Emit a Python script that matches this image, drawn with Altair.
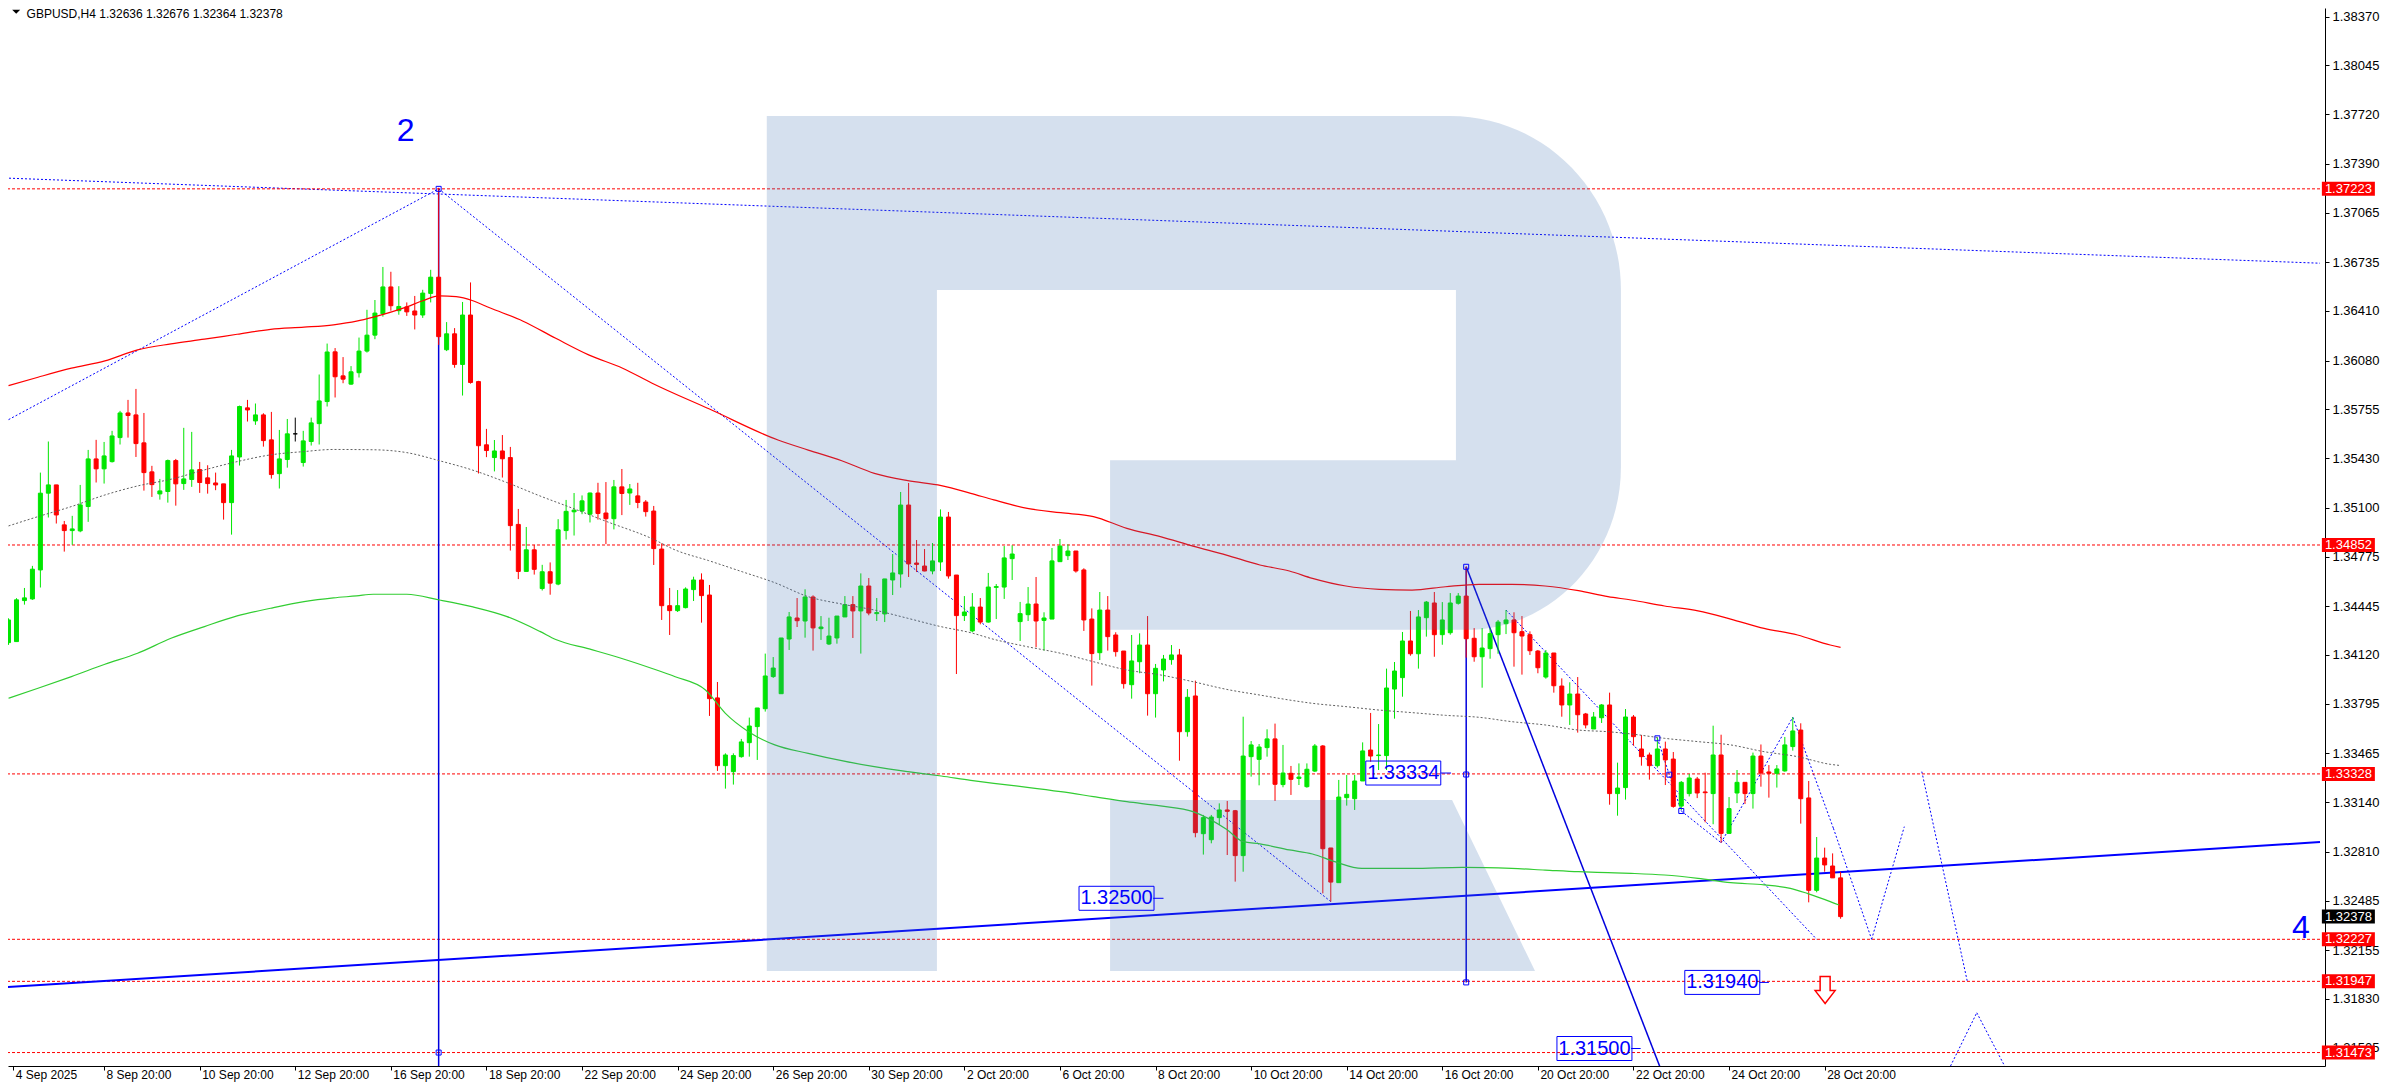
import altair as alt
import pandas as pd

# ---------------- data ----------------
opens = [1.34202, 1.34209, 1.34482, 1.34493, 1.34686, 1.35197, 1.35252, 1.34986, 1.34948, 1.34946,
 1.35108, 1.35425, 1.35359, 1.35407, 1.35567, 1.35731, 1.35718, 1.35532, 1.35339, 1.35192,
 1.35208, 1.35414, 1.35261, 1.35288, 1.35354, 1.35299, 1.35265, 1.35259, 1.35134, 1.35438,
 1.35765, 1.35678, 1.35718, 1.35552, 1.35327, 1.35421, 1.35592, 1.35401, 1.35541, 1.35660,
 1.35807, 1.36138, 1.35978, 1.35923, 1.35999, 1.36143, 1.36249, 1.36391, 1.36570, 1.36412,
 1.36437, 1.36410, 1.36383, 1.36527, 1.36635, 1.36152, 1.36258, 1.36054, 1.36383, 1.35940,
 1.35519, 1.35434, 1.35478, 1.35434, 1.34989, 1.34676, 1.34820, 1.34562, 1.34674, 1.34592,
 1.34948, 1.35073, 1.35078, 1.35057, 1.35198, 1.35065, 1.35027, 1.35239, 1.35198, 1.35179,
 1.35138, 1.35078, 1.34825, 1.34448, 1.34415, 1.34435, 1.34555, 1.34619, 1.34519, 1.33834,
 1.33383, 1.33343, 1.33443, 1.33536, 1.33643, 1.33762, 1.33976, 1.33862, 1.34226, 1.34366,
 1.34346, 1.34506, 1.34295, 1.34193, 1.34233, 1.34373, 1.34455, 1.34413, 1.34579, 1.34395,
 1.34393, 1.34619, 1.34659, 1.35118, 1.34732, 1.34712, 1.34679, 1.34739, 1.35038, 1.34652,
 1.34382, 1.34280, 1.34439, 1.34339, 1.34570, 1.34572, 1.34761, 1.34342, 1.34388, 1.34459,
 1.34350, 1.34359, 1.34741, 1.34781, 1.34812, 1.34686, 1.34359, 1.34135, 1.34419, 1.34253,
 1.34146, 1.33922, 1.34075, 1.34186, 1.33862, 1.34020, 1.34089, 1.34120, 1.33609, 1.33847,
 1.32930, 1.32890, 1.33037, 1.33088, 1.33083, 1.32784, 1.33443, 1.33425, 1.33503, 1.33561,
 1.33257, 1.33332, 1.33298, 1.33243, 1.33347, 1.33514, 1.32835, 1.32604, 1.33170, 1.33163,
 1.33281, 1.33487, 1.33450, 1.33450, 1.33893, 1.33969, 1.34213, 1.34128, 1.34368, 1.34466,
 1.34255, 1.34268, 1.34464, 1.34512, 1.34231, 1.34108, 1.34162, 1.34255, 1.34328, 1.34353,
 1.34275, 1.34255, 1.34146, 1.33973, 1.34133, 1.33913, 1.33787, 1.33860, 1.33727, 1.33627,
 1.33702, 1.33787, 1.33197, 1.33237, 1.33707, 1.33494, 1.33454, 1.33383, 1.33494, 1.33427,
 1.33114, 1.33197, 1.33294, 1.33208, 1.33197, 1.33454, 1.32932, 1.33201, 1.33272, 1.33197,
 1.33447, 1.33341, 1.33332, 1.33348, 1.33510, 1.33620, 1.33168, 1.32553, 1.32768, 1.32715,
 1.32636]

highs = [1.34364, 1.34498, 1.34566, 1.34713, 1.35334, 1.35541, 1.35252, 1.35012, 1.35046, 1.35252,
 1.35485, 1.35552, 1.35538, 1.35612, 1.35745, 1.35818, 1.35891, 1.35731, 1.35379, 1.35292,
 1.35421, 1.35425, 1.35632, 1.35605, 1.35405, 1.35383, 1.35334, 1.35259, 1.35485, 1.35780,
 1.35818, 1.35794, 1.35729, 1.35738, 1.35618, 1.35691, 1.35700, 1.35612, 1.35700, 1.35987,
 1.36193, 1.36163, 1.36103, 1.36043, 1.36233, 1.36418, 1.36483, 1.36703, 1.36671, 1.36575,
 1.36467, 1.36510, 1.36551, 1.36684, 1.37230, 1.36336, 1.36296, 1.36470, 1.36600, 1.35945,
 1.35625, 1.35551, 1.35584, 1.35505, 1.35092, 1.34972, 1.34853, 1.34720, 1.34736, 1.35024,
 1.35152, 1.35198, 1.35182, 1.35201, 1.35266, 1.35271, 1.35285, 1.35358, 1.35258, 1.35266,
 1.35151, 1.35112, 1.34863, 1.34566, 1.34552, 1.34570, 1.34641, 1.34663, 1.34586, 1.33940,
 1.33465, 1.33465, 1.33561, 1.33703, 1.33767, 1.34129, 1.34106, 1.34233, 1.34406, 1.34499,
 1.34557, 1.34517, 1.34379, 1.34368, 1.34379, 1.34512, 1.34512, 1.34663, 1.34632, 1.34499,
 1.34626, 1.34792, 1.35205, 1.35265, 1.34885, 1.34825, 1.34865, 1.35089, 1.35072, 1.34652,
 1.34512, 1.34532, 1.34499, 1.34666, 1.34592, 1.34845, 1.34850, 1.34473, 1.34572, 1.34639,
 1.34404, 1.34832, 1.34892, 1.34856, 1.34812, 1.34697, 1.34430, 1.34539, 1.34512, 1.34271,
 1.34146, 1.34253, 1.34264, 1.34379, 1.34060, 1.34120, 1.34186, 1.34160, 1.33893, 1.33949,
 1.33055, 1.33055, 1.33132, 1.33148, 1.33088, 1.33709, 1.33547, 1.33527, 1.33625, 1.33663,
 1.33521, 1.33381, 1.33398, 1.33398, 1.33527, 1.33520, 1.32835, 1.33288, 1.33321, 1.33321,
 1.33538, 1.33734, 1.33660, 1.34029, 1.34073, 1.34273, 1.34413, 1.34419, 1.34479, 1.34539,
 1.34472, 1.34532, 1.34532, 1.34708, 1.34299, 1.34299, 1.34297, 1.34353, 1.34419, 1.34404,
 1.34379, 1.34277, 1.34153, 1.34153, 1.34133, 1.33964, 1.33938, 1.33973, 1.33734, 1.33740,
 1.33793, 1.33869, 1.33403, 1.33760, 1.33720, 1.33587, 1.33470, 1.33572, 1.33543, 1.33474,
 1.33281, 1.33328, 1.33308, 1.33336, 1.33649, 1.33589, 1.33174, 1.33354, 1.33272, 1.33470,
 1.33524, 1.33387, 1.33387, 1.33574, 1.33705, 1.33665, 1.33281, 1.32908, 1.32837, 1.32799,
 1.32676]

lows = [1.34187, 1.34209, 1.34455, 1.34487, 1.34569, 1.35035, 1.34995, 1.34808, 1.34853, 1.34937,
 1.35006, 1.35268, 1.35261, 1.35401, 1.35521, 1.35567, 1.35438, 1.35214, 1.35172, 1.35154,
 1.35134, 1.35114, 1.35219, 1.35239, 1.35199, 1.35194, 1.35217, 1.35021, 1.34921, 1.35381,
 1.35674, 1.35652, 1.35507, 1.35294, 1.35228, 1.35367, 1.35541, 1.35374, 1.35514, 1.35521,
 1.35774, 1.35834, 1.35929, 1.35918, 1.35967, 1.36133, 1.36222, 1.36372, 1.36412, 1.36385,
 1.36377, 1.36287, 1.36364, 1.36467, 1.36184, 1.36143, 1.36032, 1.35847, 1.35926, 1.35328,
 1.35437, 1.35342, 1.35301, 1.34815, 1.34625, 1.34676, 1.34655, 1.34549, 1.34521, 1.34584,
 1.34888, 1.34915, 1.35057, 1.35002, 1.35021, 1.34858, 1.34956, 1.35051, 1.35119, 1.35097,
 1.35041, 1.34719, 1.34353, 1.34253, 1.34406, 1.34430, 1.34479, 1.34335, 1.33714, 1.33348,
 1.33230, 1.33257, 1.33436, 1.33443, 1.33421, 1.33743, 1.33967, 1.33862, 1.34153, 1.34306,
 1.34235, 1.34149, 1.34220, 1.34186, 1.34195, 1.34373, 1.34233, 1.34129, 1.34384, 1.34346,
 1.34339, 1.34519, 1.34568, 1.34639, 1.34672, 1.34677, 1.34657, 1.34679, 1.34628, 1.33993,
 1.34346, 1.34271, 1.34324, 1.34335, 1.34359, 1.34493, 1.34619, 1.34213, 1.34346, 1.34171,
 1.34149, 1.34359, 1.34739, 1.34752, 1.34668, 1.34280, 1.33916, 1.34086, 1.34149, 1.34109,
 1.33896, 1.33829, 1.33998, 1.33716, 1.33703, 1.33944, 1.34055, 1.33416, 1.33576, 1.32906,
 1.32791, 1.32866, 1.32988, 1.32788, 1.32611, 1.32677, 1.33310, 1.33252, 1.33443, 1.33148,
 1.33239, 1.33188, 1.33254, 1.33236, 1.33341, 1.32533, 1.32478, 1.32604, 1.33117, 1.33088,
 1.33281, 1.33409, 1.33354, 1.33354, 1.33696, 1.33842, 1.34115, 1.34029, 1.34242, 1.34108,
 1.34188, 1.34255, 1.34455, 1.34102, 1.34075, 1.33902, 1.34095, 1.34128, 1.34259, 1.34042,
 1.33989, 1.34120, 1.33998, 1.33962, 1.33869, 1.33709, 1.33654, 1.33603, 1.33631, 1.33627,
 1.33667, 1.33123, 1.33050, 1.33157, 1.33516, 1.33383, 1.33290, 1.33370, 1.33254, 1.33103,
 1.33088, 1.33178, 1.33167, 1.33006, 1.32993, 1.32870, 1.32932, 1.33134, 1.33128, 1.33097,
 1.33243, 1.33170, 1.33237, 1.33343, 1.33483, 1.32997, 1.32473, 1.32540, 1.32677, 1.32635,
 1.32364]

closes = [1.34353, 1.34487, 1.34500, 1.34691, 1.35197, 1.35252, 1.35052, 1.34948, 1.34959, 1.35119,
 1.35425, 1.35359, 1.35445, 1.35578, 1.35731, 1.35714, 1.35527, 1.35334, 1.35254, 1.35212,
 1.35414, 1.35259, 1.35292, 1.35352, 1.35268, 1.35261, 1.35252, 1.35134, 1.35445, 1.35774,
 1.35751, 1.35718, 1.35547, 1.35321, 1.35425, 1.35592, 1.35592, 1.35545, 1.35665, 1.35811,
 1.36137, 1.35972, 1.35956, 1.36005, 1.36143, 1.36249, 1.36396, 1.36570, 1.36445, 1.36440,
 1.36404, 1.36383, 1.36529, 1.36635, 1.36239, 1.36258, 1.36054, 1.36383, 1.35934, 1.35513,
 1.35481, 1.35478, 1.35426, 1.34981, 1.34676, 1.34820, 1.34690, 1.34674, 1.34598, 1.34953,
 1.35076, 1.35084, 1.35146, 1.35198, 1.35062, 1.35027, 1.35239, 1.35195, 1.35225, 1.35135,
 1.35074, 1.34828, 1.34448, 1.34415, 1.34448, 1.34559, 1.34619, 1.34515, 1.33829, 1.33383,
 1.33454, 1.33450, 1.33541, 1.33647, 1.33767, 1.33980, 1.34033, 1.34233, 1.34373, 1.34348,
 1.34506, 1.34300, 1.34306, 1.34246, 1.34379, 1.34455, 1.34413, 1.34579, 1.34399, 1.34402,
 1.34626, 1.34666, 1.35118, 1.34726, 1.34723, 1.34679, 1.34746, 1.35038, 1.34646, 1.34382,
 1.34406, 1.34439, 1.34339, 1.34572, 1.34575, 1.34766, 1.34792, 1.34395, 1.34459, 1.34346,
 1.34366, 1.34746, 1.34845, 1.34812, 1.34679, 1.34353, 1.34129, 1.34419, 1.34242, 1.34142,
 1.33929, 1.34080, 1.34186, 1.33862, 1.34031, 1.34093, 1.34120, 1.33609, 1.33838, 1.32937,
 1.33037, 1.33041, 1.33088, 1.33079, 1.32784, 1.33447, 1.33521, 1.33507, 1.33561, 1.33259,
 1.33334, 1.33292, 1.33307, 1.33359, 1.33514, 1.32830, 1.32608, 1.33174, 1.33192, 1.33281,
 1.33481, 1.33447, 1.33454, 1.33900, 1.34013, 1.34213, 1.34128, 1.34373, 1.34472, 1.34255,
 1.34353, 1.34466, 1.34512, 1.34228, 1.34108, 1.34166, 1.34262, 1.34339, 1.34353, 1.34268,
 1.34246, 1.34148, 1.34035, 1.34133, 1.33915, 1.33787, 1.33860, 1.33722, 1.33654, 1.33707,
 1.33787, 1.33197, 1.33234, 1.33707, 1.33576, 1.33443, 1.33383, 1.33494, 1.33421, 1.33112,
 1.33272, 1.33301, 1.33201, 1.33203, 1.33454, 1.32932, 1.33097, 1.33272, 1.33197, 1.33447,
 1.33334, 1.33332, 1.33361, 1.33521, 1.33614, 1.33163, 1.32553, 1.32768, 1.32722, 1.32636,
 1.32378]

# moving averages (bar index, price)
red_ma_k = [0, 3.7, 7.9, 12.1, 16.2, 20.4, 24.6, 28.7, 32.9, 37.1, 40.8, 43.7, 45.8, 50, 52, 54.1, 56.2,
            58.3, 60.4, 64.6, 68.7, 72.9, 77.1, 80.8, 88, 96.6, 100.4, 104.6, 108.7, 112.9, 117.1, 120.8,
            123.7, 127.9, 132.1, 136.2, 140.4, 144.6, 148.7, 152.9, 157.1, 160.8, 163.7, 167.9, 172.1,
            176.2, 180.4, 184.6, 188.7, 192.9, 197.1, 200.8, 203.7, 207.9, 212.1, 216.2, 220.4, 224.6,
            228.7, 230]
red_ma_p = [1.35913, 1.35969, 1.36029, 1.36078, 1.36151, 1.36191, 1.36222, 1.36255, 1.36288, 1.36302,
            1.36318, 1.36342, 1.36369, 1.36437, 1.36478, 1.36510, 1.36505, 1.36478, 1.36431, 1.36342,
            1.36228, 1.36116, 1.36029, 1.35929, 1.35757, 1.35551, 1.35484, 1.35413, 1.35329, 1.35280,
            1.35247, 1.35196, 1.35152, 1.35096, 1.35067, 1.35041, 1.34963, 1.34908, 1.34845, 1.34785,
            1.34719, 1.34679, 1.34630, 1.34579, 1.34557, 1.34552, 1.34574, 1.34590, 1.34590, 1.34579,
            1.34548, 1.34508, 1.34486, 1.34446, 1.34413, 1.34359, 1.34297, 1.34253, 1.34186, 1.34171]

green_ma_k = [0, 3.7, 7.9, 12.1, 16.2, 20.4, 24.6, 28.7, 32.9, 37.1, 40.8, 43.7, 45.8, 50, 54.1, 58.3,
              62.5, 66.7, 68.7, 72.9, 77.1, 80.8, 83.7, 87.5, 90, 92.9, 96.2, 100.4, 104.6, 108.7, 112.9,
              117.1, 120.8, 123.7, 127.9, 132.1, 136.2, 140.4, 144.6, 148.7, 152.9, 155, 157.1, 160.8,
              163.7, 166.5, 169.9, 176.2, 182.5, 188.7, 192.9, 197.1, 200.8, 203.7, 207.9, 212.1, 216.2,
              220.4, 223.7, 225.8, 228.7, 229.8]
green_ma_p = [1.33832, 1.33898, 1.33976, 1.34058, 1.34131, 1.34231, 1.34309, 1.34380, 1.34431, 1.34475,
              1.34500, 1.34513, 1.34524, 1.34524, 1.34486, 1.34440, 1.34377, 1.34277, 1.34223, 1.34160,
              1.34095, 1.34030, 1.33975, 1.33887, 1.33731, 1.33609, 1.33521, 1.33465, 1.33416, 1.33376,
              1.33343, 1.33314, 1.33285, 1.33265, 1.33239, 1.33210, 1.33177, 1.33143, 1.33115, 1.33077,
              1.32959, 1.32877, 1.32862, 1.32822, 1.32795, 1.32744, 1.32699, 1.32699, 1.32706, 1.32699,
              1.32688, 1.32677, 1.32671, 1.32666, 1.32655, 1.32633, 1.32604, 1.32589, 1.32566, 1.32533,
              1.32478, 1.32455]

gray_ma_k = [0, 3.7, 7.9, 12.1, 16.2, 20.4, 24.6, 28.7, 32.9, 37.1, 40.8, 45.8, 50, 54.1, 58.3, 62.5,
             66.7, 70.8, 75, 80.8, 83.7, 87.9, 92.1, 96.2, 100.4, 104.6, 108.7, 112.9, 117.1, 120.8, 123.7,
             127.9, 132.1, 136.2, 140.4, 144.6, 148.7, 152.9, 157.1, 160.8, 163.7, 167.9, 172.1, 176.2,
             180.4, 184.6, 188.7, 192.9, 197.1, 200.8, 203.7, 207.9, 212.1, 216.2, 220.4, 224.6, 228.7,
             229.8]
gray_ma_p = [1.34979, 1.35041, 1.35108, 1.35185, 1.35245, 1.35290, 1.35352, 1.35407, 1.35452, 1.35474,
             1.35488, 1.35486, 1.35467, 1.35413, 1.35350, 1.35269, 1.35179, 1.35097, 1.35010, 1.34894,
             1.34819, 1.34748, 1.34674, 1.34601, 1.34508, 1.34459, 1.34419, 1.34364, 1.34308, 1.34268,
             1.34224, 1.34175, 1.34131, 1.34075, 1.34020, 1.33987, 1.33942, 1.33891, 1.33853, 1.33820,
             1.33798, 1.33776, 1.33753, 1.33736, 1.33718, 1.33705, 1.33676, 1.33654, 1.33620, 1.33609,
             1.33594, 1.33565, 1.33543, 1.33521, 1.33476, 1.33443, 1.33392, 1.33385]

# horizontal levels and their price tags
level_prices = [1.37223, 1.34852, 1.33328, 1.32227, 1.31947, 1.31473]
current_price = 1.32378

# dotted wave / trend lines (start bar, start price, end bar, end price)
dot_k1 = [-0.44, -0.44, 54, 188, 207, 210, 215, 224, 229.1, 233.9, 240.2, 243.8, 247.1]
dot_p1 = [1.37295, 1.35674, 1.37223, 1.34419, 1.33565, 1.33081, 1.32870, 1.33705, 1.32966, 1.32227, 1.33343, 1.31383, 1.31738]
dot_k2 = [290.19, 54, 166, 227, 210, 215, 224, 229.1, 233.9, 238, 245.9, 247.1, 250.6]
dot_p2 = [1.36728, 1.37223, 1.32478, 1.32227, 1.33081, 1.32870, 1.33705, 1.32966, 1.32227, 1.32977, 1.31949, 1.31738, 1.31383]

# solid thin lines
sol_k1 = [54, 183, 183]
sol_p1 = [1.37223, 1.34707, 1.34707]
sol_k2 = [54, 183, 210]
sol_p2 = [1.3130, 1.31940, 1.31011]

# thick trend line
thick_k = [-0.44, 290.19]
thick_p = [1.31908, 1.32874]

# price label objects
box_text = ["1.33334", "1.32500", "1.31940", "1.31500"]
box_price = [1.33334, 1.32500, 1.31940, 1.31500]
box_k = [175.1, 139.1, 215.15, 199.1]
box_k_right = [179.8, 143.7, 219.8, 203.7]
box_k_anchor = [181.1, 145.0, 221.0, 204.9]

# object anchor squares
sq_k = [54, 54, 183, 183, 183, 207, 208.5, 210]
sq_p = [1.37223, 1.31473, 1.34707, 1.33324, 1.31940, 1.33565, 1.33323, 1.33081]

# wave labels
wave_text = ["2", "4"]
wave_k = [49.86, 287.8]
wave_p = [1.37607, 1.32299]

arrow_k = [228.06]
arrow_p = [1.31889]

title_text = "GBPUSD,H4  1.32636 1.32676 1.32364 1.32378"
title_k = [2.27]
title_p = [1.38384]
tri_k = [0.96]
tri_p = [1.38402]

logo_k = [148.81]
logo_p = [1.34862]

x_tick_k = [0.6] + list(range(12, 229, 12))
x_labels = ["4 Sep 2025", "8 Sep 20:00", "10 Sep 20:00", "12 Sep 20:00", "16 Sep 20:00", "18 Sep 20:00",
            "22 Sep 20:00", "24 Sep 20:00", "26 Sep 20:00", "30 Sep 20:00", "2 Oct 20:00", "6 Oct 20:00",
            "8 Oct 20:00", "10 Oct 20:00", "14 Oct 20:00", "16 Oct 20:00", "20 Oct 20:00", "22 Oct 20:00",
            "24 Oct 20:00", "28 Oct 20:00"]
y_ticks = [1.38370, 1.38045, 1.37720, 1.37390, 1.37065, 1.36735, 1.36410, 1.36080, 1.35755, 1.35430,
           1.35100, 1.34775, 1.34445, 1.34120, 1.33795, 1.33465, 1.33140, 1.32810, 1.32485, 1.32155,
           1.31830, 1.31505]

# ---------------- chart ----------------
FONT = "Liberation Sans"
UP, DOWN, DOJI = "#00e600", "#ff0000", "#000000"
BLUE = "#0000ff"

# plot area spans page x 8..2325 and y 8..1066 (8 px/bar)
W, H = 2317, 1058
K0 = 0.5625
K1 = K0 + W / 8.0
P_TOP = 1.384270
P_BOT = 1.313835

xs = alt.Scale(domain=[K0, K1], nice=False, zero=False)
ys = alt.Scale(domain=[P_BOT, P_TOP], nice=False, zero=False)

label_expr = "[" + ",".join("'%s'" % s for s in x_labels) + "][round(datum.value / 12)]"
x_axis = alt.Axis(values=x_tick_k, labelExpr=label_expr, title=None, grid=False, tickSize=4,
                  tickColor="black", domainColor="black", labelAlign="left", labelBaseline="alphabetic",
                  labelPadding=8, labelOffset=2, labelFont=FONT, labelFontSize=12, labelColor="black",
                  labelOverlap=False, labelFlush=False, labelBound=False)
y_axis = alt.Axis(orient="right", values=y_ticks, format=".5f", title=None, grid=False, tickSize=4,
                  tickColor="black", domainColor="black", labelAlign="left", labelBaseline="middle",
                  labelPadding=3, labelFont=FONT, labelFontSize=13, labelColor="black",
                  labelOverlap=False, labelFlush=False, labelBound=False)


def X(f):
    return alt.X(f, type="quantitative", scale=xs, axis=x_axis)


def Y(f):
    return alt.Y(f, type="quantitative", scale=ys, axis=y_axis)


n = len(opens)
cols = [UP if c > o else (DOWN if c < o else DOJI) for o, c in zip(opens, closes)]
candles = pd.DataFrame({"k": list(range(n)), "o": opens, "h": highs, "l": lows, "c": closes, "col": cols})

dots = pd.DataFrame({"k1": dot_k1, "p1": dot_p1, "k2": dot_k2, "p2": dot_p2})
sols = pd.DataFrame({"k1": sol_k1, "p1": sol_p1, "k2": sol_k2, "p2": sol_p2})
thick = pd.DataFrame({"k1": [thick_k[0]], "p1": [thick_p[0]], "k2": [thick_k[1]], "p2": [thick_p[1]]})

dotted_layer = alt.Chart(dots).mark_rule(color=BLUE, strokeWidth=1, strokeDash=[2, 2], clip=True).encode(
    x=X("k1"), y=Y("p1"), x2="k2:Q", y2="p2:Q")

levels_layer = alt.Chart(pd.DataFrame({"p": level_prices})).mark_rule(
    color="#ff0000", strokeWidth=1, strokeDash=[3, 2]).encode(y=Y("p"))

solid_layer = alt.Chart(sols).mark_rule(color="#0000dd", strokeWidth=1.5, clip=True).encode(
    x=X("k1"), y=Y("p1"), x2="k2:Q", y2="p2:Q")
thick_layer = alt.Chart(thick).mark_rule(color=BLUE, strokeWidth=2, clip=True).encode(
    x=X("k1"), y=Y("p1"), x2="k2:Q", y2="p2:Q")

wick_layer = alt.Chart(candles).mark_rule(strokeWidth=1, clip=True).encode(
    x=X("k"), y=Y("l"), y2="h:Q", color=alt.Color("col:N", scale=None))
body_layer = alt.Chart(candles).mark_bar(size=4, strokeWidth=1, clip=True).encode(
    x=X("k"), y=Y("o"), y2="c:Q", color=alt.Color("col:N", scale=None), stroke=alt.Stroke("col:N", scale=None))

red_ma = alt.Chart(pd.DataFrame({"k": red_ma_k, "p": red_ma_p})).mark_line(
    color="#ff0000", strokeWidth=1.2, interpolate="monotone", clip=True).encode(x=X("k"), y=Y("p"))
green_ma = alt.Chart(pd.DataFrame({"k": green_ma_k, "p": green_ma_p})).mark_line(
    color="#32cd32", strokeWidth=1.2, interpolate="monotone", clip=True).encode(x=X("k"), y=Y("p"))
gray_ma = alt.Chart(pd.DataFrame({"k": gray_ma_k, "p": gray_ma_p})).mark_line(
    color="#606060", strokeWidth=1, strokeDash=[2, 2], interpolate="monotone", clip=True).encode(x=X("k"), y=Y("p"))

R_PATH = ("M-0.999,-1 L0.599,-1 C0.820,-1 0.999,-0.818 0.999,-0.593 L0.999,-0.179 "
          "C0.999,0.031 0.837,0.202 0.636,0.202 L-0.196,0.202 L-0.196,-0.195 L0.613,-0.195 "
          "L0.613,-0.593 L-0.601,-0.593 L-0.601,1 L-0.999,1 Z "
          "M-0.196,0.6 L0.604,0.6 L0.798,1 L-0.196,1 Z")
logo_layer = alt.Chart(pd.DataFrame({"k": logo_k, "p": logo_p})).mark_point(
    shape=R_PATH, size=855 * 855, filled=True, color="#3f71b0", opacity=0.22, strokeWidth=0, clip=True
).encode(x=X("k"), y=Y("p"))

sq_layer = alt.Chart(pd.DataFrame({"k": sq_k, "p": sq_p})).mark_point(
    shape="square", size=25, filled=False, color=BLUE, strokeWidth=1, opacity=1, clip=True).encode(x=X("k"), y=Y("p"))

boxes = pd.DataFrame({"t": box_text, "p": box_price, "k": box_k, "kr": box_k_right, "ka": box_k_anchor})
BOX_PATH = "M-1,-0.32 L1,-0.32 L1,0.32 L-1,0.32 Z"
box_layer = alt.Chart(boxes).mark_point(shape=BOX_PATH, size=75 * 75, filled=False, color=BLUE,
                                        strokeWidth=1, opacity=1).encode(x=X("k"), y=Y("p"))
box_text_layer = alt.Chart(boxes).mark_text(font=FONT, fontSize=20, color=BLUE, align="center",
                                            baseline="middle").encode(x=X("k"), y=Y("p"), text="t:N")
box_line_layer = alt.Chart(boxes).mark_rule(color=BLUE, strokeWidth=1).encode(x=X("kr"), x2="ka:Q", y=Y("p"))

wave_layer = alt.Chart(pd.DataFrame({"t": wave_text, "k": wave_k, "p": wave_p})).mark_text(
    font=FONT, fontSize=32, color=BLUE, align="center", baseline="middle").encode(x=X("k"), y=Y("p"), text="t:N")

ARROW_PATH = "M-0.37,-1 L0.37,-1 L0.37,0.04 L0.74,0.04 L0,1 L-0.74,0.04 L-0.37,0.04 Z"
arrow_layer = alt.Chart(pd.DataFrame({"k": arrow_k, "p": arrow_p})).mark_point(
    shape=ARROW_PATH, size=27 * 27, filled=True, fill="white", stroke="#ff0000", strokeWidth=1.5, opacity=1
).encode(x=X("k"), y=Y("p"))

title_layer = alt.Chart(pd.DataFrame({"t": [title_text], "k": title_k, "p": title_p})).mark_text(
    font=FONT, fontSize=12, color="black", align="left", baseline="middle").encode(x=X("k"), y=Y("p"), text="t:N")
TRI_PATH = "M-1,-0.5 L1,-0.5 L0,0.5 Z"
tri_layer = alt.Chart(pd.DataFrame({"k": tri_k, "p": tri_p})).mark_point(
    shape=TRI_PATH, size=64, filled=True, color="black", opacity=1).encode(x=X("k"), y=Y("p"))

tag_prices = level_prices + [current_price]
tag_cols = ["#ff0000"] * len(level_prices) + ["#000000"]
tags = pd.DataFrame({"p": tag_prices, "col": tag_cols, "t": ["%.5f" % v for v in tag_prices],
                     "k": [293.75] * len(tag_prices)})
TAG_PATH = "M-1,-0.264 L1,-0.264 L1,0.264 L-1,0.264 Z"
tag_layer = alt.Chart(tags).mark_point(shape=TAG_PATH, size=53 * 53, filled=True, opacity=1, strokeWidth=0).encode(
    x=X("k"), y=Y("p"), color=alt.Color("col:N", scale=None))
tag_text_layer = alt.Chart(tags).mark_text(font=FONT, fontSize=13, color="white", align="center",
                                           baseline="middle").encode(x=X("k"), y=Y("p"), text="t:N")

chart = alt.layer(
    dotted_layer, levels_layer, solid_layer, thick_layer,
    wick_layer, body_layer,
    red_ma, green_ma, gray_ma,
    logo_layer,
    sq_layer, box_layer, box_text_layer, box_line_layer, wave_layer, arrow_layer,
    title_layer, tri_layer, tag_layer, tag_text_layer,
).properties(
    width=W, height=H,
    autosize=alt.AutoSizeParams(type="none"),
    padding={"left": 0, "top": 0, "right": 55, "bottom": 16},
    background="white",
).configure_view(stroke="transparent", strokeWidth=0)

chart.save("out.html", embed_options={"renderer": "svg", "actions": False})
